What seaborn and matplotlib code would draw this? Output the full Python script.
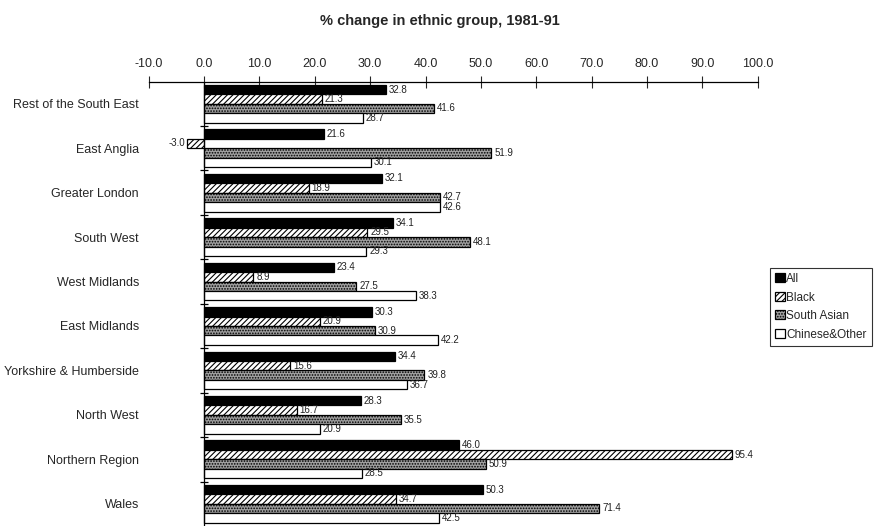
import matplotlib
matplotlib.use("Agg")
import matplotlib.pyplot as plt
import numpy as np
import pandas as pd
import seaborn as sns

regions = ["Rest of the South East", "East Anglia", "Greater London", "South West",
           "West Midlands", "East Midlands", "Yorkshire & Humberside", "North West",
           "Northern Region", "Wales"]
groups = ["All", "Black", "South Asian", "Chinese&Other"]

all_vals = [32.8, 21.6, 32.1, 34.1, 23.4, 30.3, 34.4, 28.3, 46.0, 50.3]
black_vals = [21.3, -3.0, 18.9, 29.5, 8.9, 20.9, 15.6, 16.7, 95.4, 34.7]
south_asian_vals = [41.6, 51.9, 42.7, 48.1, 27.5, 30.9, 39.8, 35.5, 50.9, 71.4]
chinese_other_vals = [28.7, 30.1, 42.6, 29.3, 38.3, 42.2, 36.7, 20.9, 28.5, 42.5]

df = pd.DataFrame({
    "region": regions * 4,
    "group": np.repeat(groups, len(regions)),
    "value": all_vals + black_vals + south_asian_vals + chinese_other_vals,
})

sns.set_style("white")
plt.rcParams["font.family"] = ["Liberation Sans", "DejaVu Sans"]
plt.rcParams["hatch.linewidth"] = 0.8

fig = plt.figure(figsize=(8.8, 5.26), dpi=100)
ax = fig.add_axes([0.169, 0.0, 0.692, 0.845])

palette = {"All": "black", "Black": "white", "South Asian": "#a0a0a0", "Chinese&Other": "white"}
sns.barplot(data=df, y="region", x="value", hue="group", orient="h",
            palette=palette, edgecolor="black", linewidth=0.9, width=0.85,
            saturation=1, legend=False, ax=ax)

# fill patterns per series
hatches = [None, "//////", "......", None]
for cont, h in zip(ax.containers, hatches):
    for bar in cont:
        if h:
            bar.set_hatch(h)
    ax.bar_label(cont, fmt="%.1f", fontsize=7, padding=2, color="#222222")

ax.set_xlim(-10, 100)
ax.set_ylim(len(regions) - 0.5, -0.5)
ax.set_xticks(np.arange(-10, 101, 10))
ax.xaxis.set_major_formatter(matplotlib.ticker.FormatStrFormatter("%.1f"))
ax.xaxis.tick_top()
ax.tick_params(axis="x", direction="inout", length=8, width=0.8, pad=4, labelsize=9)
ax.tick_params(axis="y", length=0, pad=7, labelsize=9)
ax.set_xlabel("")
ax.set_ylabel("")

for s in ["left", "right", "bottom"]:
    ax.spines[s].set_visible(False)
ax.spines["top"].set_linewidth(0.9)
ax.spines["top"].set_color("black")
ax.axvline(0, color="black", lw=0.9)
ax.hlines(np.arange(len(regions) - 1) + 0.5, -0.75, 0.75, color="black", lw=0.9)

handles = [plt.Rectangle((0, 0), 1, 1, facecolor=palette[g], edgecolor="black",
                         hatch=h, linewidth=0.9) for g, h in zip(groups, hatches)]
leg = fig.legend(handles, groups, loc="upper left", bbox_to_anchor=(0.875, 0.491),
                 fontsize=8.5, frameon=True, fancybox=False, handlelength=0.8,
                 handleheight=0.8, handletextpad=0.1, borderpad=0.45,
                 labelspacing=0.55, borderaxespad=0)
leg.get_frame().set_edgecolor("black")
leg.get_frame().set_linewidth(0.8)

fig.text(0.5, 0.96, "% change in ethnic group, 1981-91", ha="center", va="center",
         fontsize=10.5, fontweight="bold")

fig.savefig("out.png", dpi=100)
